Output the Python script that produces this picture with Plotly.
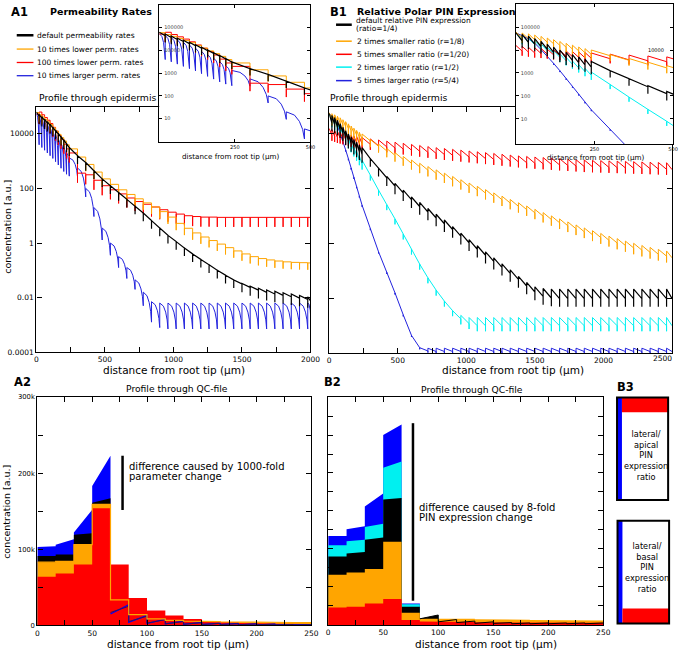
import plotly.graph_objects as go

W, H = 685, 657
FONT = "DejaVu Sans"

# ---------------- A1: epidermis profiles (log10 concentration per cell) -------------
A1_EDGES = [0, 20, 40, 60, 80, 100, 120, 140, 160, 180, 200, 220, 240, 300, 360, 420,
            480, 540, 600, 660, 720, 780, 840, 900, 960, 1020, 1080, 1140, 1200, 1260,
            1320, 1380, 1440, 1500, 1560, 1620, 1680, 1740, 1800, 1860, 1920, 1980, 2000]
A1_DEFAULT = [4.80, 4.72, 4.63, 4.54, 4.45, 4.36, 4.25, 4.14, 4.02, 3.90, 3.78, 3.64, 3.50,
              3.20, 2.95, 2.65, 2.35, 2.10, 1.85, 1.60, 1.35, 1.10, 0.82, 0.55, 0.28, 0.05,
              -0.18, -0.40, -0.60, -0.80, -1.00, -1.18, -1.35, -1.48, -1.58, -1.66, -1.72,
              -1.77, -1.82, -1.87, -1.92, -1.97]
A1_10X_LOWER = [4.78, 4.70, 4.62, 4.53, 4.44, 4.34, 4.22, 4.10, 3.98, 3.86, 3.74, 3.60, 3.45,
                3.15, 2.88, 2.60, 2.35, 2.15, 1.95, 1.78, 1.62, 1.47, 1.32, 1.15, 0.95, 0.72,
                0.54, 0.37, 0.22, 0.09, -0.04, -0.17, -0.29, -0.40, -0.50, -0.57, -0.62,
                -0.66, -0.69, -0.71, -0.72, -0.73]
A1_100X_LOWER = [4.72, 4.80, 4.70, 4.60, 4.50, 4.38, 4.24, 4.10, 3.95, 3.80, 3.62, 3.45, 3.30,
                 2.56, 2.50, 2.30, 2.10, 1.95, 1.80, 1.65, 1.52, 1.42, 1.32, 1.22, 1.13, 1.06,
                 1.00, 0.97, 0.95, 0.95, 0.94, 0.94, 0.94, 0.94, 0.94, 0.94, 0.94, 0.94,
                 0.94, 0.94, 0.94, 0.94]
A1_10X_LARGER_TOP = [4.75, 4.66, 4.57, 4.47, 4.36, 4.24, 4.10, 3.96, 3.82, 3.66, 3.50, 3.32,
                     3.12, 2.75, 2.00, 1.30, 0.55, 0.00, -0.50, -0.90, -1.35, -1.80, -2.15,
                     -2.20, -2.20, -2.20, -2.20, -2.20, -2.20, -2.20, -2.20, -2.20, -2.20,
                     -2.20, -2.20, -2.20, -2.20, -2.20, -2.20, -2.20, -2.20, -2.20]
A1_10X_LARGER_END = [3.60, 3.50, 3.40, 3.30, 3.20, 3.10, 2.98, 2.86, 2.74, 2.62, 2.52, 2.45,
                     2.43, 1.69, 0.97, 0.11, -0.45, -0.90, -1.30, -1.70, -2.30, -2.90, -3.10,
                     -3.15, -3.15, -3.15, -3.15, -3.15, -3.15, -3.15, -3.15, -3.15, -3.15,
                     -3.15, -3.15, -3.15, -3.15, -3.15, -3.15, -3.15, -3.15, -2.60]
A1_X_TICKS = [0, 500, 1000, 1500, 2000]
A1_X_MINOR = [250, 750, 1250, 1750]

# ---------------- B1: epidermis profiles (log10 concentration per cell) -------------
B1_EDGES = [0, 20, 40, 60, 80, 100, 120, 140, 160, 180, 200, 220, 240, 300, 360, 420, 480,
            540, 600, 660, 720, 780, 840, 900, 960, 1020, 1080, 1140, 1200, 1260, 1320, 1380,
            1440, 1500, 1560, 1620, 1680, 1740, 1800, 1860, 1920, 1980, 2040, 2100, 2160,
            2220, 2280, 2340, 2400, 2460, 2500]
B1_DEFAULT = [4.75, 4.68, 4.60, 4.50, 4.38, 4.25, 4.12, 4.00, 3.90, 3.80, 3.70, 3.60, 3.50,
              3.10, 2.75, 2.45, 2.20, 1.95, 1.70, 1.50, 1.28, 1.07, 0.86, 0.62, 0.38, 0.14,
              -0.08, -0.30, -0.52, -0.74, -0.96, -1.20, -1.42, -1.58, -1.64, -1.66, -1.66,
              -1.66, -1.66, -1.66, -1.66, -1.66, -1.66, -1.66, -1.66, -1.66, -1.66, -1.66,
              -1.66, -1.66]
B1_R_1_8 = [4.78, 4.74, 4.70, 4.65, 4.59, 4.52, 4.45, 4.37, 4.29, 4.21, 4.13, 4.06, 4.00,
            3.80, 3.63, 3.47, 3.32, 3.18, 3.05, 2.93, 2.81, 2.69, 2.57, 2.45, 2.33, 2.21,
            2.09, 1.97, 1.85, 1.73, 1.61, 1.49, 1.37, 1.25, 1.13, 1.01, 0.90, 0.79, 0.68,
            0.57, 0.47, 0.37, 0.27, 0.18, 0.09, 0.01, -0.07, -0.14, -0.21, -0.27]
B1_R_1_20 = [4.20, 4.16, 4.12, 4.10, 4.07, 4.04, 4.01, 3.98, 3.96, 3.93, 3.91, 3.89, 3.87,
             3.82, 3.78, 3.74, 3.70, 3.66, 3.62, 3.58, 3.54, 3.50, 3.47, 3.44, 3.41, 3.38,
             3.35, 3.32, 3.29, 3.26, 3.23, 3.20, 3.18, 3.16, 3.14, 3.12, 3.10, 3.08, 3.06,
             3.05, 3.04, 3.03, 3.02, 3.01, 3.00, 2.99, 2.98, 2.97, 2.96, 2.95]
B1_R_1_2 = [4.75, 4.65, 4.53, 4.40, 4.27, 4.13, 3.98, 3.83, 3.68, 3.52, 3.36, 3.20, 3.04,
            2.50, 1.95, 1.42, 0.90, 0.35, -0.20, -0.75, -1.25, -1.70, -2.10, -2.45, -2.62,
            -2.70, -2.70, -2.70, -2.70, -2.70, -2.70, -2.70, -2.70, -2.70, -2.70, -2.70,
            -2.70, -2.70, -2.70, -2.70, -2.70, -2.70, -2.70, -2.70, -2.70, -2.70, -2.70,
            -2.70, -2.70, -2.70]
B1_R_5_4 = [4.75, 4.62, 4.48, 4.30, 4.02, 3.72, 3.42, 3.10, 2.76, 2.42, 2.08, 1.74, 1.40,
            0.55, -0.30, -1.05, -1.80, -2.60, -3.35, -3.80, -3.82, -3.82, -3.82, -3.82,
            -3.82, -3.82, -3.82, -3.82, -3.82, -3.82, -3.82, -3.82, -3.82, -3.82, -3.82,
            -3.82, -3.82, -3.82, -3.82, -3.82, -3.82, -3.82, -3.82, -3.82, -3.82, -3.82,
            -3.82, -3.82, -3.82, -3.82]
B1_X_TICKS = [0, 500, 1000, 1500, 2000, 2500]
B1_X_TEXT = ["0", "500", "1000", "1500", "2000", ""]
B1_X_MINOR = [250, 750, 1250, 1750, 2250]

LOG_TICKS = [1e-4, 1e-2, 1, 1e2, 1e4]
LOG_TICK_TEXT = ["0.0001", "0.01", "1", "100", "10000"]
INSET_X_TICKS = [0, 250, 500]

# ---------------- A2 / B2: QC-file profiles (k a.u. per cell, left/right edge) -------
QC_EDGES = [0, 16.7, 33.3, 50, 66.7, 83.3, 100, 116.7, 133.3, 150, 166.7, 183.3, 200,
            216.7, 233.3, 250]
A2_LARGER_L = [103, 106, 122, 183, 15, 4, 2.5, 2, 1.5, 1, 1, 0.8, 0.7, 0.6, 0.5]
A2_LARGER_R = [104, 113, 152, 223, 27, 13, 8, 5.5, 4, 3, 2.5, 2, 1.6, 1.3, 1.1]
A2_DEFAULT_L = [91, 93, 119, 161, 17, 5, 3, 2, 1.5, 1.2, 1, 0.8, 0.7, 0.6, 0.5]
A2_DEFAULT_R = [91, 93, 121, 167, 25, 12, 7.5, 5, 3.5, 2.7, 2.2, 1.8, 1.5, 1.2, 1.0]
A2_10X_LOWER = [83, 84, 106, 159, 33.5, 14, 8.5, 6.5, 5.5, 5, 4.5, 4, 4, 3.8, 3.5]
A2_100X_LOWER = [64, 68, 80, 154, 80, 36, 19.5, 13, 8.5, 5.5, 4, 3, 2.5, 2, 1.8]

B2_R54_L = [117, 126, 156, 250, 28, 4, 1.5, 1, 0.8, 0.6, 0.5, 0.5, 0.4, 0.4, 0.4]
B2_R54_R = [117, 130, 173, 264, 28, 9, 4, 2.5, 2, 1.5, 1.2, 1, 1, 0.9, 0.8]
B2_R12_L = [105, 110, 129, 207, 27, 6, 3, 2, 1.5, 1.2, 1, 1, 0.8, 0.8, 0.7]
B2_R12_R = [105, 112, 133, 215, 27, 12, 5, 3, 2.5, 2, 1.7, 1.5, 1.3, 1.2, 1.1]
B2_DEF_L = [90, 94, 112, 165, 24, 8, 4, 3, 2, 2, 1.5, 1.5, 1.5, 1.5, 1.5]
B2_DEF_R = [90, 96, 115, 167, 24, 13, 7, 5, 4, 3, 2.5, 2.5, 2.5, 2.5, 2.5]
B2_R18 = [66, 69, 73.5, 109.5, 16, 8, 8.5, 8, 7.5, 7, 6.8, 6.5, 6.3, 6, 5.8]
B2_R120 = [23, 24, 28, 34, 6.5, 4.5, 4, 3.8, 3.5, 3.3, 3.2, 3, 3, 2.8, 2.7]

QC_X_TICKS = [0, 50, 100, 150, 200, 250]
QC_X_MINOR = [25, 75, 125, 175, 225]
QC_Y_TICKS = [0, 100, 200, 300]
QC_Y_TEXT = ["0", "100k", "200k", "300k"]

A1_LEGEND = ["default permeability rates", "10 times lower perm. rates",
             "100 times lower perm. rates", "10 times larger perm. rates"]
B1_LEGEND = ["2 times smaller ratio (r=1/8)", "5 times smaller ratio (r=1/20)",
             "2 times larger ratio (r=1/2)", "5 times larger ratio (r=5/4)"]
B3_TOP_TEXT = ["lateral/", "apical", "PIN", "expression", "ratio"]
B3_BOTTOM_TEXT = ["lateral/", "basal", "PIN", "expression", "ratio"]

# ---------------- styles ----------------
C_BLACK = "#000000"
C_ORANGE = "#FFA500"
C_RED = "#FF0000"
C_BLUE = "#0000FF"
C_BLUE_L = "#2222DD"
C_CYAN = "#00F0F0"


def X(p):
    return p / W


def Y(p):
    return 1 - p / H


def tooth_path(edges, tops, fall=0.0, spike=0.0, step=False):
    xs, ls = [], []
    n = len(tops)
    for i in range(n):
        x0, x1 = edges[i], edges[i + 1]
        t = tops[i]
        if step:
            e = t
        elif i + 1 < n:
            e = min(tops[i + 1], t - fall)
        else:
            e = t - fall
        xs += [x0, x1]
        ls += [t, e]
        if i + 1 < n:
            nt = tops[i + 1]
            xs += [x1, x1]
            ls += [min(e, nt) - spike, nt]
    return xs, [10 ** v for v in ls]


SC_F = [0.0, 0.45, 0.72, 0.9, 1.0]
SC_D = [0.0, 0.12, 0.35, 0.65, 1.0]


def scallop_path(edges, tops, ends):
    xs, ls = [], []
    for i, (t, e) in enumerate(zip(tops, ends)):
        x0, x1 = edges[i], edges[i + 1]
        for f, d in zip(SC_F, SC_D):
            xs.append(x0 + f * (x1 - x0))
            ls.append(t - d * (t - e))
    return xs, [10 ** v for v in ls]


def step_area(edges, left, right, start=0):
    xs, ys = [], []
    for i in range(start, len(left)):
        xs += [edges[i], edges[i + 1]]
        ys += [left[i], right[i]]
    return xs, ys


fig = go.Figure()


def line_trace(xs, ys, color, width, ax):
    fig.add_trace(go.Scatter(x=xs, y=ys, mode="lines",
                             line=dict(color=color, width=width),
                             xaxis="x" + ax, yaxis="y" + ax,
                             hoverinfo="skip", showlegend=False))


def fill_trace(xs, ys, color, ax):
    fig.add_trace(go.Scatter(x=xs, y=ys, mode="lines", fill="tozeroy",
                             fillcolor=color, line=dict(width=0, color=color),
                             xaxis="x" + ax, yaxis="y" + ax,
                             hoverinfo="skip", showlegend=False))


# A1 main + inset
A1_SERIES = [
    (scallop_path(A1_EDGES, A1_10X_LARGER_TOP, A1_10X_LARGER_END), C_BLUE_L, 1.0),
    (tooth_path(A1_EDGES, A1_100X_LOWER, spike=0.35, step=True), C_RED, 1.0),
    (tooth_path(A1_EDGES, A1_10X_LOWER, spike=0.25, step=True), C_ORANGE, 1.0),
    (tooth_path(A1_EDGES, A1_DEFAULT, fall=0.15, spike=0.3), C_BLACK, 1.2),
]
for ax in ["", "2"]:
    for (xs, ys), c, w in A1_SERIES:
        line_trace(xs, ys, c, w, ax)

# B1 main + inset
B1_SERIES = [
    (tooth_path(B1_EDGES, B1_R_5_4, 0.12, 0.06), C_BLUE_L, 1.0),
    (tooth_path(B1_EDGES, B1_R_1_2, 0.30, 0.20), C_CYAN, 1.0),
    (tooth_path(B1_EDGES, B1_R_1_20, 0.25, 0.20), C_RED, 1.0),
    (tooth_path(B1_EDGES, B1_R_1_8, 0.25, 0.23), C_ORANGE, 1.0),
    (tooth_path(B1_EDGES, B1_DEFAULT, 0.35, 0.30), C_BLACK, 1.2),
]
for ax in ["3", "4"]:
    for (xs, ys), c, w in B1_SERIES:
        line_trace(xs, ys, c, w, ax)

# A2 areas
for l, r, c in [(A2_LARGER_L, A2_LARGER_R, C_BLUE), (A2_DEFAULT_L, A2_DEFAULT_R, C_BLACK),
                (A2_10X_LOWER, A2_10X_LOWER, C_ORANGE), (A2_100X_LOWER, A2_100X_LOWER, C_RED)]:
    xs, ys = step_area(QC_EDGES, l, r)
    fill_trace(xs, ys, c, "5")
xs, ys = step_area(QC_EDGES, A2_LARGER_L, A2_LARGER_R, 4)
line_trace(xs, ys, C_BLUE, 1.2, "5")
xs, ys = step_area(QC_EDGES, A2_DEFAULT_L, A2_DEFAULT_R, 4)
line_trace(xs, ys, "#301060", 1.0, "5")
xs, ys = step_area(QC_EDGES, A2_10X_LOWER, A2_10X_LOWER)
line_trace(xs, ys, C_ORANGE, 1.2, "5")

# B2 areas
for l, r, c in [(B2_R54_L, B2_R54_R, C_BLUE), (B2_R12_L, B2_R12_R, C_CYAN),
                (B2_DEF_L, B2_DEF_R, C_BLACK), (B2_R18, B2_R18, C_ORANGE),
                (B2_R120, B2_R120, C_RED)]:
    xs, ys = step_area(QC_EDGES, l, r)
    fill_trace(xs, ys, c, "6")
xs, ys = step_area(QC_EDGES, B2_DEF_L, B2_DEF_R, 5)
line_trace(xs, ys, C_BLACK, 1.0, "6")


def axis(**kw):
    d = dict(showline=True, linecolor="black", linewidth=1.3, mirror="allticks",
             ticks="inside", ticklen=5, tickwidth=1, tickcolor="black",
             showgrid=False, zeroline=False,
             tickfont=dict(size=7.5, color="black", family=FONT))
    d.update(kw)
    return d


def minor(vals, ln=5):
    return dict(tickmode="array", tickvals=vals, ticks="inside", ticklen=ln,
                tickcolor="black", tickwidth=1)


fig.update_layout(
    width=W, height=H, margin=dict(l=0, r=0, t=0, b=0),
    paper_bgcolor="white", plot_bgcolor="white", showlegend=False,
    font=dict(family=FONT, color="black"),
    xaxis=axis(domain=[X(35), X(314)], range=[0, 2000], tickmode="array",
               tickvals=A1_X_TICKS, minor=minor(A1_X_MINOR), anchor="y"),
    yaxis=axis(domain=[Y(353), Y(104)], type="log", range=[-4, 5], tickmode="array",
               tickvals=LOG_TICKS, ticktext=LOG_TICK_TEXT, anchor="x"),
    xaxis2=axis(domain=[X(160), X(314)], range=[0, 500], tickmode="array",
                tickvals=INSET_X_TICKS, ticklen=3, linewidth=1,
                tickfont=dict(size=5, family=FONT), anchor="y2"),
    yaxis2=axis(domain=[Y(140), Y(1)], type="log", range=[-0.03, 6.0], tickmode="array",
                tickvals=[10, 100, 1000, 1e4, 1e5],
                ticktext=["10", "100", "1000", "10000", "100000"],
                ticklabelposition="inside", ticklen=3, linewidth=1,
                tickfont=dict(size=5, family=FONT), anchor="x2"),
    xaxis3=axis(domain=[X(333), X(682)], range=[0, 2500], tickmode="array",
                tickvals=B1_X_TICKS, ticktext=B1_X_TEXT, minor=minor(B1_X_MINOR),
                anchor="y3"),
    yaxis3=axis(domain=[Y(354), Y(104)], type="log", range=[-4, 5], tickmode="array",
                tickvals=LOG_TICKS, showticklabels=False, anchor="x3"),
    xaxis4=axis(domain=[X(523), X(683)], range=[0, 500], tickmode="array",
                tickvals=INSET_X_TICKS, ticklen=3, linewidth=1,
                tickfont=dict(size=5, family=FONT), anchor="y4"),
    yaxis4=axis(domain=[Y(142), Y(0)], type="log", range=[-0.09, 6.0], tickmode="array",
                tickvals=[10, 100, 1000, 1e4, 1e5],
                ticktext=["10", "100", "1000", "", "100000"],
                ticklabelposition="inside", ticklen=3, linewidth=1,
                tickfont=dict(size=5, family=FONT), anchor="x4"),
    xaxis5=axis(domain=[X(36), X(315)], range=[0, 250], tickmode="array",
                tickvals=QC_X_TICKS, minor=minor(QC_X_MINOR),
                tickfont=dict(size=7.5, family=FONT), anchor="y5"),
    yaxis5=axis(domain=[Y(630), Y(398.5)], range=[0, 300], tickmode="array",
                tickvals=QC_Y_TICKS, ticktext=QC_Y_TEXT, minor=minor([50, 150, 250]),
                tickfont=dict(size=6.8, family=FONT), anchor="x5"),
    xaxis6=axis(domain=[X(332), X(612)], range=[0, 250], tickmode="array",
                tickvals=QC_X_TICKS, minor=minor(QC_X_MINOR),
                tickfont=dict(size=7.5, family=FONT), anchor="y6"),
    yaxis6=axis(domain=[Y(629.5), Y(398.5)], range=[0, 300], tickmode="array",
                tickvals=QC_Y_TICKS, showticklabels=False,
                minor=minor([25, 50, 75, 125, 150, 175, 225, 250, 275]), anchor="x6"),
)

ann = []


def text(t, x, y, size, xa="left", ya="middle", bold=False, angle=0, pad=1):
    ann.append(dict(text=f"<b>{t}</b>" if bold else t, x=X(x), y=Y(y), xref="paper",
                    yref="paper", showarrow=False, xanchor=xa, yanchor=ya,
                    textangle=angle, borderpad=pad,
                    font=dict(size=size, family=FONT, color="black")))


shapes = []


def seg(x0, y0, x1, y1, color, width):
    shapes.append(dict(type="line", xref="paper", yref="paper", x0=X(x0), y0=Y(y0),
                       x1=X(x1), y1=Y(y1), line=dict(color=color, width=width)))


def rect(x0, y0, x1, y1, fill=None, line=None, lw=0):
    shapes.append(dict(type="rect", xref="paper", yref="paper", x0=X(x0), y0=Y(y0),
                       x1=X(x1), y1=Y(y1), fillcolor=fill or "rgba(0,0,0,0)",
                       line=dict(color=line or "rgba(0,0,0,0)", width=lw)))


# panel headings
text("A1", 7, 8, 11.5, bold=True)
text("Permeability Rates", 47, 8, 9.5, bold=True)
text("B1", 332, 8, 11.5, bold=True)
text("Relative Polar PIN Expression", 359, 8, 9.5, bold=True)

# A1 legend
for label, yy, c, w in zip(A1_LEGEND, [31.7, 45.7, 59.3, 72.7],
                           [C_BLACK, C_ORANGE, C_RED, C_BLUE_L], [2.5, 1.3, 1.3, 1.3]):
    seg(15, yy, 32, yy, c, w)
    text(label, 34, yy, 7.5)

# B1 legend
seg(340, 21, 356, 21, C_BLACK, 2.5)
text("default relative PIN expression", 359, 16.8, 7.5, pad=0)
text("(ratio=1/4)", 359, 25, 7.5, pad=0)
for label, yy, c in zip(B1_LEGEND, [37.7, 51, 64, 77.7],
                        [C_ORANGE, C_RED, C_CYAN, C_BLUE_L]):
    seg(340, yy, 356, yy, c, 1.5)
    text(label, 359, yy, 7.5)

text("Profile through epidermis", 36, 95, 9.3)
text("Profile through epidermis", 332, 95, 9.3)
text("distance from root tip (μm)", 175, 371, 10.5, xa="center")
text("distance from root tip (μm)", 520, 371, 10.5, xa="center")
text("2500", 684, 359.5, 7.5, xa="right")
text("concentration [a.u.]", 6, 226, 9.5, xa="center", angle=-90)
text("distance from root tip (μm)", 233, 154.5, 7.2, xa="center", pad=0)
text("distance from root tip (μm)", 604, 155.5, 7.2, xa="center", pad=0)
text("10000", 676, 46.8, 5, xa="right")

# A2 / B2 / B3
text("A2", 10, 383, 11.5, bold=True)
text("B2", 326, 383, 11.5, bold=True)
text("B3", 624, 388, 11.5, bold=True)
text("Profile through QC-file", 178, 390, 9.2, xa="center")
text("Profile through QC-file", 478, 391, 9.2, xa="center")
text("concentration [a.u.]", 5, 515, 9.5, xa="center", angle=-90)
text("distance from root tip (μm)", 179, 648.5, 10.5, xa="center")
text("distance from root tip (μm)", 493, 648.5, 10.5, xa="center")
text("difference caused by 1000-fold", 128, 469, 10, pad=0)
text("parameter change", 128, 479, 10, pad=0)
text("difference caused by 8-fold", 423, 510.7, 10, pad=0)
text("PIN expression change", 423, 521, 10, pad=0)
seg(122.7, 458, 122.7, 513, "black", 2.5)
seg(418.3, 425, 418.3, 605, "black", 2.5)

# B3 schematic cells
rect(626, 399, 631, 503, fill=C_BLUE)
rect(631, 399, 678, 414, fill=C_RED)
rect(626, 399, 678, 503, line="black", lw=2)
rect(626.5, 524, 631.5, 628, fill=C_BLUE)
rect(631.5, 613, 679, 628, fill=C_RED)
rect(626.5, 524, 679, 628, line="black", lw=2)
text("<br>".join(B3_TOP_TEXT), 655, 458, 8.2, xa="center", pad=0)
text("<br>".join(B3_BOTTOM_TEXT), 656, 571, 8.2, xa="center", pad=0)

fig.update_layout(annotations=ann, shapes=shapes)
fig.write_html("out.html", config={"displayModeBar": False},
               post_script="document.body.style.margin='0';document.body.style.padding='0';")
